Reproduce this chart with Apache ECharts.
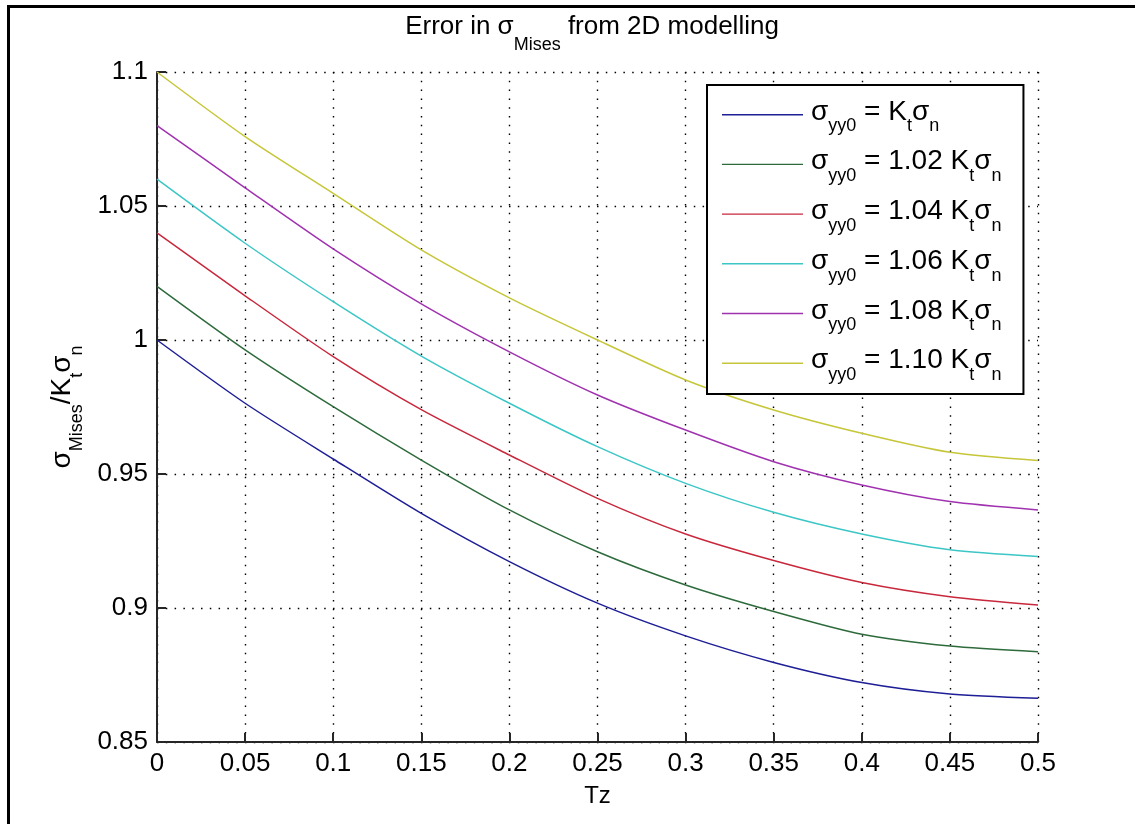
<!DOCTYPE html>
<html>
<head>
<meta charset="utf-8">
<script src="https://cdn.jsdelivr.net/npm/echarts@6/dist/echarts.min.js"></script>
<style>
  html, body { margin: 0; padding: 0; background: #ffffff; }
  #chart { width: 1135px; height: 824px; }
</style>
</head>
<body>
<div id="chart"></div>
<script>
// Tz positions along the x axis
const tz = [0, 0.05, 0.1, 0.15, 0.2, 0.25, 0.3, 0.35, 0.4, 0.45, 0.5];

// sigma_Mises / (Kt sigma_n) for each applied sigma_yy0 level
const k100 = [1.0000, 0.9764, 0.9556, 0.9353, 0.9173, 0.9018, 0.8896, 0.8797, 0.8722, 0.8679, 0.8663];
const k102 = [1.0200, 0.9963, 0.9751, 0.9552, 0.9366, 0.9210, 0.9086, 0.8987, 0.8902, 0.8858, 0.8837];
const k104 = [1.0400, 1.0165, 0.9938, 0.9740, 0.9571, 0.9409, 0.9276, 0.9177, 0.9095, 0.9042, 0.9011];
const k106 = [1.0600, 1.0361, 1.0143, 0.9940, 0.9764, 0.9602, 0.9465, 0.9357, 0.9276, 0.9217, 0.9192];
const k108 = [1.0800, 1.0568, 1.0340, 1.0135, 0.9956, 0.9795, 0.9664, 0.9546, 0.9459, 0.9397, 0.9366];
const k110 = [1.1000, 1.0759, 1.0547, 1.0336, 1.0157, 1.0000, 0.9851, 0.9739, 0.9652, 0.9581, 0.9550];

// Multiplier shown in each legend entry ('' means plain Kt sigma_n)
const factors = ['', '1.02 ', '1.04 ', '1.06 ', '1.08 ', '1.10 '];
const seriesValues = [k100, k102, k104, k106, k108, k110];

// Axis tick values
const xTicks = [0, 0.05, 0.1, 0.15, 0.2, 0.25, 0.3, 0.35, 0.4, 0.45, 0.5];
const yTicks = [0.85, 0.9, 0.95, 1, 1.05, 1.1];

const colors = ['#1e1e96', '#2e6b3c', '#c8283c', '#3cc6c6', '#a032b0', '#c6c63a'];
const FONT = '"Liberation Sans", Arial, Helvetica, sans-serif';

const seriesNames = factors.map(f => 'σyy0 = ' + f + 'Ktσn');

const chart = echarts.init(document.getElementById('chart'), null, { renderer: 'canvas' });

const gridDots = { color: '#000', width: 1.4, type: [1.5, 7.3] };
const axisStroke = { color: '#262626', width: 2 };

chart.setOption({
  backgroundColor: '#ffffff',
  animation: false,
  color: colors,
  graphic: [{
    type: 'rect',
    silent: true,
    z: 100,
    shape: { x: 8.5, y: 6.5, width: 1300, height: 1000 },
    style: { fill: 'none', stroke: '#000', lineWidth: 3 }
  }],
  title: {
    text: '{m|Error in σ}{s|Mises}{m| from 2D modelling}',
    left: 592,
    top: 14,
    textAlign: 'center',
    padding: 0,
    textStyle: {
      fontFamily: FONT,
      fontWeight: 'normal',
      color: '#000',
      rich: {
        m: { fontFamily: FONT, fontWeight: 'normal', fontSize: 26, lineHeight: 26, verticalAlign: 'top', color: '#000' },
        s: { fontFamily: FONT, fontWeight: 'normal', fontSize: 18, lineHeight: 18, padding: [22, 0, 0, 0], verticalAlign: 'top', color: '#000' }
      }
    }
  },
  grid: {
    left: 157, top: 72, right: 97, bottom: 82,
    containLabel: false,
    outerBoundsMode: 'none'
  },
  legend: {
    orient: 'vertical',
    left: 707,
    top: 85,
    padding: [9.2, 22, 9.9, 15],
    icon: 'rect',
    itemWidth: 81,
    itemHeight: 1.4,
    itemGap: 8.4,
    backgroundColor: '#fff',
    borderColor: '#000',
    borderWidth: 2,
    borderRadius: 0,
    data: seriesNames,
    formatter: function (name) {
      const f = factors[seriesNames.indexOf(name)];
      return '{m0|σ}{s|yy0}{m| = ' + f + 'K}{s|t}{m|σ}{s|n}';
    },
    textStyle: {
      fontFamily: FONT,
      color: '#000',
      rich: {
        m0: { fontFamily: FONT, fontSize: 28, lineHeight: 41, padding: [3.8, 0, 0, 3], verticalAlign: 'top', color: '#000' },
        m: { fontFamily: FONT, fontSize: 28, lineHeight: 41, padding: [3.8, 0, 0, 0], verticalAlign: 'top', color: '#000' },
        s: { fontFamily: FONT, fontSize: 18, lineHeight: 18, padding: [23.3, 0, 0, 0], verticalAlign: 'top', color: '#000' }
      }
    }
  },
  xAxis: {
    type: 'value',
    min: xTicks[0],
    max: xTicks[xTicks.length - 1],
    interval: xTicks[1] - xTicks[0],
    name: 'Tz',
    nameLocation: 'middle',
    nameGap: 42,
    nameTextStyle: { fontFamily: FONT, fontSize: 24, color: '#000' },
    axisLine: { show: true, onZero: false, lineStyle: axisStroke },
    axisTick: { show: true, inside: true, length: 9, lineStyle: axisStroke },
    axisLabel: { fontFamily: FONT, fontSize: 26, color: '#000', margin: 9 },
    splitLine: { show: true, lineStyle: gridDots }
  },
  yAxis: {
    type: 'value',
    min: yTicks[0],
    max: yTicks[yTicks.length - 1],
    interval: 0.05,
    name: '{m|σ}{s|Mises}{m|/K}{s|t}{m|σ}{s|n}',
    nameLocation: 'middle',
    nameRotate: 90,
    nameGap: 74,
    nameTextStyle: {
      fontFamily: FONT,
      color: '#000',
      rich: {
        m: { fontFamily: FONT, fontSize: 28, lineHeight: 28, padding: [4, 0, 0, 0], verticalAlign: 'top', color: '#000' },
        s: { fontFamily: FONT, fontSize: 18, lineHeight: 18, padding: [24, 0, 0, 0], verticalAlign: 'top', color: '#000' }
      }
    },
    axisLine: { show: true, onZero: false, lineStyle: axisStroke },
    axisTick: { show: true, inside: true, length: 9, lineStyle: axisStroke },
    axisLabel: { fontFamily: FONT, fontSize: 26, color: '#000', margin: 9 },
    splitLine: { show: true, lineStyle: gridDots }
  },
  series: seriesValues.map((vals, i) => ({
    name: seriesNames[i],
    type: 'line',
    data: tz.map((x, j) => [x, vals[j]]),
    symbol: 'none',
    smooth: 0.25,
    lineStyle: { width: 1.5, color: colors[i] },
    itemStyle: { color: colors[i] },
    z: 2
  }))
});
</script>
</body>
</html>
